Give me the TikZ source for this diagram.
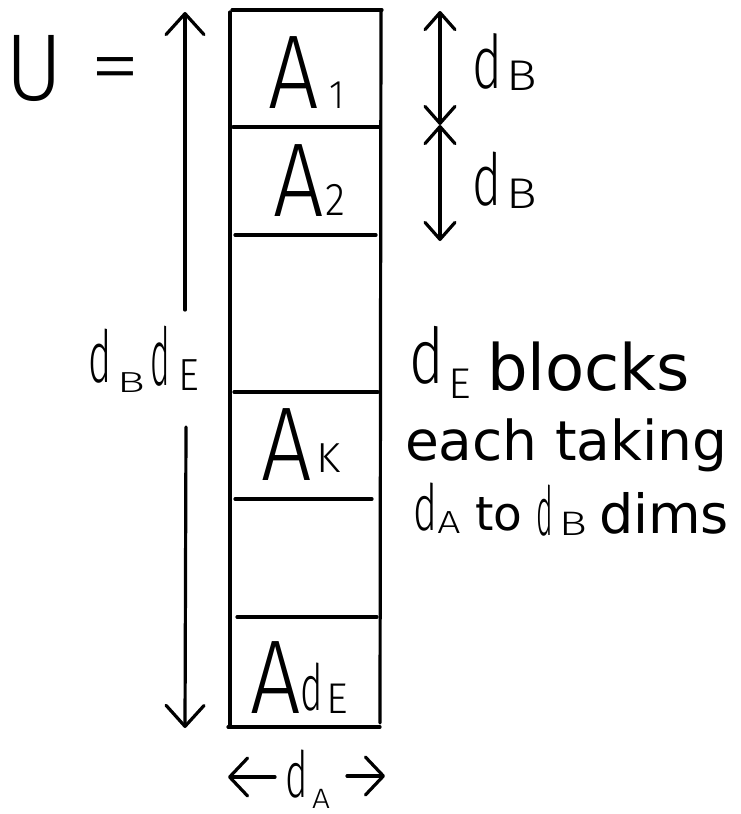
\documentclass[tikz,border=0pt]{standalone}
\usepackage{graphicx}
\usepackage{fontspec}
\setmainfont{DejaVu Sans}
\newfontfamily\hand{Fira Sans}[UprightFont={* Light}]
\usetikzlibrary{arrows.meta}
\newcommand\handtxt[3]{\scalebox{#1}[1]{\hand\fontsize{#2}{#2}\selectfont #3}}
\newcommand\typetxt[2]{{\fontsize{#1}{#1}\selectfont #2}}
\begin{document}
\begin{tikzpicture}[x=1pt,y=-1pt,line width=3.2pt,line cap=round,line join=round,
  hw/.style={inner sep=0pt,outer sep=0pt,anchor=base},
  tw/.style={inner sep=0pt,outer sep=0pt,anchor=base west},
  bigbarb/.style={-{Straight Barb[length=21pt,width=38pt,round]}},
  smallbarb/.style={{Straight Barb[length=17pt,width=30pt,round]}-{Straight Barb[length=17pt,width=30pt,round]}},
  dimbarb/.style={-{Straight Barb[length=18pt,width=38pt,round]}}]
\useasboundingbox (0,0) rectangle (740,814);

% rectangle column
\coordinate (tl) at (232,10); \coordinate (tr) at (382,10);
\coordinate (lt) at (230,12); \coordinate (lb) at (230,725);
\coordinate (bl) at (228,727); \coordinate (br) at (380,727);
\coordinate (rt) at (381,10); \coordinate (rb) at (380,723);
\draw (tl) -- (tr);
\draw (lt) -- (lb);
\draw (bl) -- (br);
\draw (rt) -- (rb);
% dividers
\coordinate (d1a) at (233,127); \coordinate (d1b) at (380,127);
\coordinate (d2a) at (235,235); \coordinate (d2b) at (376,235);
\coordinate (d3a) at (234,392); \coordinate (d3b) at (378,392);
\coordinate (d4a) at (235,499); \coordinate (d4b) at (372,499);
\coordinate (d5a) at (237,617); \coordinate (d5b) at (377,617);
\draw (d1a) -- (d1b);
\draw (d2a) -- (d2b);
\draw (d3a) -- (d3b);
\draw (d4a) -- (d4b);
\draw (d5a) -- (d5b);

% block labels
\node[hw] (A1) at (294,108) {\handtxt{0.85}{105}{A}};
\node[hw] (A1s) at (337,108) {\handtxt{0.9}{40}{1}};
\node[hw] (A2) at (299,216) {\handtxt{0.85}{105}{A}};
\node[hw] (A2s) at (335,215) {\handtxt{0.9}{46}{2}};
\node[hw] (Ak) at (287,480) {\handtxt{0.85}{105}{A}};
\node[hw] (Aks) at (329,472) {\handtxt{1.05}{42}{K}};
\node[hw] (AdE) at (276,713) {\handtxt{0.85}{105}{A}};
\node[hw] (AdEd) at (312,710) {\handtxt{0.6}{64}{d}};
\node[hw] (AdEe) at (337,713) {\handtxt{0.98}{43}{E}};

% U =
\node[hw] (U) at (34,100) {\handtxt{0.93}{95}{U}};
\node[inner sep=0pt] (eq) at (115.5,76) {\handtxt{1.25}{81}{=}};

% left arrow d_B d_E
\coordinate (la1) at (185,310); \coordinate (la2) at (185,12);
\coordinate (la3) at (186,427); \coordinate (la4) at (185,728);
\draw[bigbarb] (la1) -- (la2);
\draw[bigbarb] (la3) -- (la4);
\node[hw] (ld1) at (100,382) {\handtxt{0.55}{72}{d}};
\node[hw] (lB) at (131,392) {\handtxt{1.6}{29}{B}};
\node[hw] (ld2) at (160,385) {\handtxt{0.42}{80}{d}};
\node[hw] (lE) at (189,390) {\handtxt{0.9}{45}{E}};

% right arrows d_B
\coordinate (ra1) at (440,11); \coordinate (ra2) at (440,125); \coordinate (ra3) at (440,241);
\draw[smallbarb] (ra1) -- (ra2);
\draw[smallbarb] (ra2) -- (ra3);
\node[hw] (rd1) at (487,88) {\handtxt{0.69}{74}{d}};
\node[hw] (rB1) at (522,90) {\handtxt{1.19}{43}{B}};
\node[hw] (rd2) at (487,205) {\handtxt{0.69}{72}{d}};
\node[hw] (rB2) at (522,208) {\handtxt{1.19}{43}{B}};

% description text
\node[hw] (dEd) at (427,383) {\handtxt{0.77}{77}{d}};
\node[hw] (dEe) at (460,398) {\handtxt{1.03}{43}{E}};
\node[tw] (blocks) at (487,390) {\typetxt{64}{blocks}};
\node[tw] (each) at (405,460) {\typetxt{55}{each taking}};
\node[hw] (dAd) at (425,530) {\handtxt{0.64}{64}{d}};
\node[hw] (dAa) at (449,533) {\handtxt{1.28}{32}{A}};
\node[tw] (to) at (475,530) {\typetxt{47}{to}};
\node[hw] (dBd) at (545,535) {\handtxt{0.42}{68}{d}};
\node[hw] (dBb) at (573,535) {\handtxt{1.38}{34}{B}};
\node[tw] (dims) at (599,533) {\typetxt{54}{dims}};

% bottom d_A
\coordinate (ba1) at (275,777); \coordinate (ba2) at (228,777);
\coordinate (ba3) at (347,776); \coordinate (ba4) at (385,776);
\draw[dimbarb] (ba1) -- (ba2);
\draw[dimbarb] (ba3) -- (ba4);
\node[hw] (bd) at (297,797) {\handtxt{0.6}{64}{d}};
\node[hw] (ba) at (321,808) {\handtxt{1.13}{28}{A}};
\end{tikzpicture}
\end{document}
